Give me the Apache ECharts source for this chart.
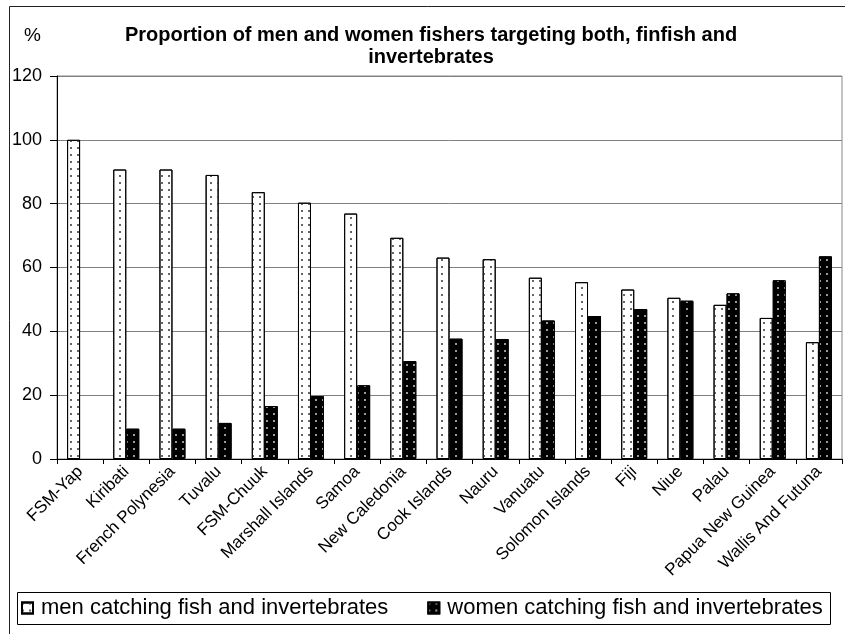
<!DOCTYPE html>
<html>
<head>
<meta charset="utf-8">
<title>Fishers targeting finfish and invertebrates</title>
<script src="https://cdn.jsdelivr.net/npm/echarts@6/dist/echarts.min.js"></script>
<style>
  html, body { margin: 0; padding: 0; background: #fff; }
  #chart { width: 845px; height: 634px; }
</style>
</head>
<body>
<div id="chart"></div>
<script>
// 国家/地区
const countries = [
  'FSM-Yap', 'Kiribati', 'French Polynesia', 'Tuvalu', 'FSM-Chuuk',
  'Marshall Islands', 'Samoa', 'New Caledonia', 'Cook Islands', 'Nauru',
  'Vanuatu', 'Solomon Islands', 'Fiji', 'Niue', 'Palau',
  'Papua New Guinea', 'Wallis And Futuna'
];
// men / women catching fish and invertebrates (%)
const menValues = [100, 90.7, 90.7, 89, 83.6, 80.3, 76.9, 69.3, 63.1, 62.6, 56.8, 55.4, 53.1, 50.5, 48.3, 44.2, 36.6];
const womenValues = [null, 9.5, 9.5, 11.3, 16.6, 19.7, 23.1, 30.7, 37.7, 37.6, 43.4, 44.8, 47, 49.6, 51.9, 56, 63.5];
const yTicks = [0, 20, 40, 60, 80, 100, 120];

const chart = echarts.init(document.getElementById('chart'));

const font = 'Liberation Sans, Arial, sans-serif';

const option = {
  backgroundColor: '#fff',
  animation: false,
  textStyle: { fontFamily: font },
  title: [
    {
      text: 'Proportion of men and women fishers targeting both, finfish and\ninvertebrates',
      left: 431,
      top: 24,
      padding: 0,
      textAlign: 'center',
      textStyle: { fontFamily: font, fontSize: 20, fontWeight: 'bold', color: '#000', lineHeight: 22 },
    },
    {
      text: '%',
      left: 24,
      top: 25,
      padding: 0,
      textStyle: { fontFamily: font, fontSize: 19, fontWeight: 'normal', color: '#000', lineHeight: 22 },
    },
  ],
  // 外框和图例框
  graphic: [
    {
      type: 'rect',
      silent: true,
      shape: { x: 9.5, y: 6.5, width: 900, height: 700 },
      style: { fill: 'none', stroke: '#222', lineWidth: 1 },
    },
    {
      type: 'rect',
      silent: true,
      shape: { x: 17.5, y: 592.5, width: 813, height: 32 },
      style: { fill: 'none', stroke: '#000', lineWidth: 1 },
    },
  ],
  legend: {
    left: 21,
    top: 597,
    padding: 0,
    itemGap: 39,
    itemWidth: 11,
    itemHeight: 11,
    icon: 'rect',
    textStyle: { fontFamily: font, fontSize: 22, color: '#000', padding: [0, 0, 0, 3] },
    data: ['men catching fish and invertebrates', 'women catching fish and invertebrates'],
  },
  grid: {
    left: 57,
    right: 3,
    top: 76,
    bottom: 175,
    show: true,
    borderColor: '#888',
    borderWidth: 1,
  },
  xAxis: {
    type: 'category',
    data: countries,
    axisLine: { lineStyle: { color: '#000', width: 1 } },
    axisTick: { show: true, length: 5, lineStyle: { color: '#000' } },
    axisLabel: {
      rotate: 45,
      interval: 0,
      margin: 10,
      fontFamily: font,
      fontSize: 17,
      color: '#000',
    },
  },
  yAxis: {
    type: 'value',
    min: yTicks[0],
    max: yTicks[yTicks.length - 1],
    interval: 20,
    axisLine: { show: true, lineStyle: { color: '#000', width: 1 } },
    axisTick: { show: true, length: 7, lineStyle: { color: '#000' } },
    axisLabel: { margin: 15, fontFamily: font, fontSize: 18, color: '#000' },
    splitLine: { lineStyle: { color: '#808080', width: 1 } },
  },
  series: [
    {
      name: 'men catching fish and invertebrates',
      type: 'bar',
      data: menValues,
      barWidth: 13,
      barGap: '0%',
      itemStyle: {
        color: '#fff',
        borderColor: '#000',
        borderWidth: 1,
        decal: {
          symbol: 'rect',
          symbolSize: 1,
          color: '#666',
          dashArrayX: [1.5, 5],
          dashArrayY: [1.5, 5],
        },
      },
    },
    {
      name: 'women catching fish and invertebrates',
      type: 'bar',
      data: womenValues,
      barWidth: 13,
      itemStyle: {
        color: '#000',
        borderColor: '#000',
        borderWidth: 1,
        decal: {
          symbol: 'rect',
          symbolSize: 1,
          color: '#9a9a9a',
          dashArrayX: [1.5, 5],
          dashArrayY: [1.5, 5],
        },
      },
    },
  ],
};

chart.setOption(option);
window.addEventListener('resize', () => chart.resize());
</script>
</body>
</html>
